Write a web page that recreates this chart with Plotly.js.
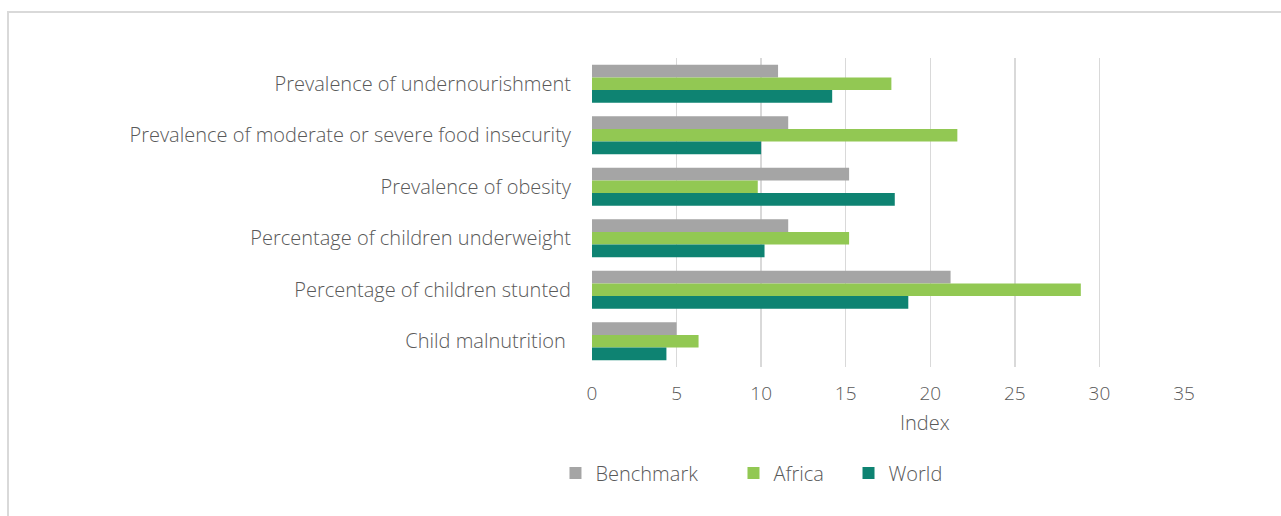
<!DOCTYPE html>
<html>
<head>
<meta charset="utf-8">
<script src="https://cdn.plot.ly/plotly-3.0.1.min.js"></script>
<style>
  html, body { margin: 0; padding: 0; background: #fff; }
  #wrap { position: relative; width: 1281px; height: 516px; overflow: hidden; }
  #chart { position: absolute; left: 0; top: 0; width: 1281px; height: 516px; }
  #frame { position: absolute; left: 7px; top: 11px; width: 1400px; height: 600px;
           border-top: 2px solid #d9d9d9; border-left: 2px solid #d9d9d9; pointer-events: none; }
</style>
</head>
<body>
<div id="wrap">
  <div id="chart"></div>
  <div id="frame"></div>
</div>
<script>
const categories = [
  "Prevalence of undernourishment",
  "Prevalence of moderate or severe food insecurity",
  "Prevalence of obesity",
  "Percentage of children underweight",
  "Percentage of children stunted",
  "Child malnutrition\u00a0"
];
const benchmark = [11.0, 11.6, 15.2, 11.6, 21.2, 5.0];
const africa    = [17.7, 21.6, 9.8, 15.2, 28.9, 6.3];
const world     = [14.2, 10.0, 17.9, 10.2, 18.7, 4.4];
const xTicks = [0, 5, 10, 15, 20, 25, 30, 35];

const font = "'Open Sans', Lato, sans-serif";
const txt = "#595959";

const traces = [
  {name: "Benchmark", x: benchmark, y: categories, marker: {color: "#A5A5A5"}, legend: "legend"},
  {name: "Africa", x: africa, y: categories, marker: {color: "#92C853"}, legend: "legend2"},
  {name: "World", x: world, y: categories, marker: {color: "#0E8372"}, legend: "legend3"}
].map(t => Object.assign({type: "bar", orientation: "h", hoverinfo: "skip"}, t));

function leg(x) {
  return {
    orientation: "h", x: x, y: -0.343, xanchor: "left", yanchor: "middle",
    bgcolor: "rgba(0,0,0,0)",
    font: {family: font, size: 20, color: txt, weight: 300},
    itemclick: false, itemdoubleclick: false
  };
}

const layout = {
  width: 1281, height: 516,
  margin: {l: 592, r: 97, t: 58, b: 149},
  paper_bgcolor: "rgba(0,0,0,0)",
  plot_bgcolor: "rgba(0,0,0,0)",
  barmode: "group",
  bargap: 0.26,
  bargroupgap: 0,
  font: {family: font, color: txt, size: 20, weight: 300},
  xaxis: {
    range: [0, 35],
    tickvals: xTicks,
    ticktext: xTicks.map(String),
    showgrid: true, gridcolor: "#d9d9d9", gridwidth: 1.5,
    zeroline: false, showline: false,
    ticks: "", ticklabelstandoff: 13,
    tickfont: {family: font, size: 19, color: txt, weight: 300},
    fixedrange: true
  },
  yaxis: {
    autorange: "reversed",
    type: "category",
    showgrid: false, zeroline: false, showline: false,
    ticks: "", ticklabelstandoff: 20,
    tickfont: {family: font, size: 20, color: txt, weight: 300},
    fixedrange: true
  },
  annotations: [{
    text: "Index", xref: "paper", yref: "paper",
    x: 0.5625, y: -0.181, xanchor: "center", yanchor: "middle",
    showarrow: false, font: {family: font, size: 20, color: txt, weight: 300}
  }],
  showlegend: true,
  legend: leg(-0.0617),
  legend2: leg(0.239),
  legend3: leg(0.4333)
};

Plotly.newPlot("chart", traces, layout, {displayModeBar: false, staticPlot: true});
</script>
</body>
</html>
